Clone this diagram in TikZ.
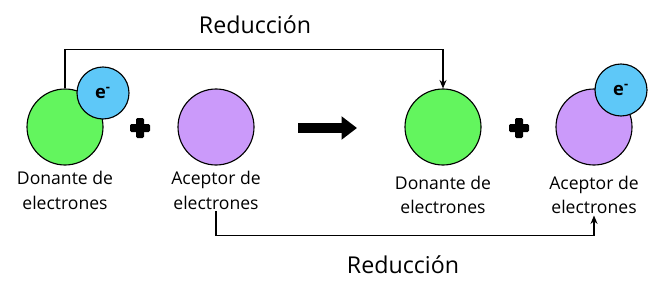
\documentclass[tikz,border=0pt]{standalone}
\usepackage{fontspec}
\setmainfont{Open Sans}
\usetikzlibrary{arrows.meta, positioning}
\definecolor{donor}{HTML}{63F55E}
\definecolor{acceptor}{HTML}{CB9AFA}
\definecolor{electron}{HTML}{5EC8F8}
\tikzset{
    molecule/.style={
        circle, minimum size=76*0.025cm, inner sep=0pt, draw=black, line width=0.8pt
    },
    electronball/.style={
        circle, minimum size=52*0.025cm, inner sep=0pt, draw=black, line width=0.8pt,
        fill=electron, font=\bfseries\fontsize{13}{13}\selectfont
    },
    label/.style={
        align=center, font=\fontsize{12.5}{17.5}\selectfont, inner sep=1pt
    },
    title/.style={
        font=\fontsize{16.5}{18}\selectfont
    },
    conn/.style={
        -{Stealth[length=6pt,width=5pt]}, line width=1pt
    },
    bigarrow/.style={
        -{Triangle[length=11pt,width=16pt]}, line width=6.5pt
    },
    plussign/.pic={
        \fill[rounded corners=1pt] (-10,-4) rectangle (10,4);
        \fill[rounded corners=1pt] (-4,-10) rectangle (4,10);
    }
}
\begin{document}
\begin{tikzpicture}[x=0.025cm, y=-0.025cm]
    \useasboundingbox (0,0) rectangle (656,302);

    % ── Left side ──
    \node[molecule, fill=donor]    (don1) at (65,127)  {};
    \node[electronball]            (el1)  at (103,93)  {e\textsuperscript{-}};
    \node[molecule, fill=acceptor] (acc1) at (216,127) {};
    \pic at (140,128) {plussign};

    \node[label, below=3pt of don1] (don1lbl) {Donante de\\electrones};
    \node[label, below=3pt of acc1] (acc1lbl) {Aceptor de\\electrones};

    % ── Reaction arrow ──
    \coordinate (arrS) at (298,128);
    \coordinate (arrE) at (357,128);
    \draw[bigarrow] (arrS) -- (arrE);

    % ── Right side ──
    \node[molecule, fill=donor]    (don2) at (443,127) {};
    \node[molecule, fill=acceptor] (acc2) at (594,127) {};
    \node[electronball]            (el2)  at (621,90)  {e\textsuperscript{-}};
    \pic at (519,128) {plussign};

    \node[label, below=6pt of don2] (don2lbl) {Donante de\\electrones};
    \node[label, below=6pt of acc2] (acc2lbl) {Aceptor de\\electrones};

    % ── Reduction paths ──
    \draw[conn] (don1.north) -- ++(0,-39) -| (don2.north);
    \draw[conn] (acc1lbl.south) -- ++(0,24) -| (acc2lbl.south);

    \node[title] (redtop) at (255,25)  {Reducción};
    \node[title] (redbot) at (403,265) {Reducción};

\end{tikzpicture}
\end{document}
